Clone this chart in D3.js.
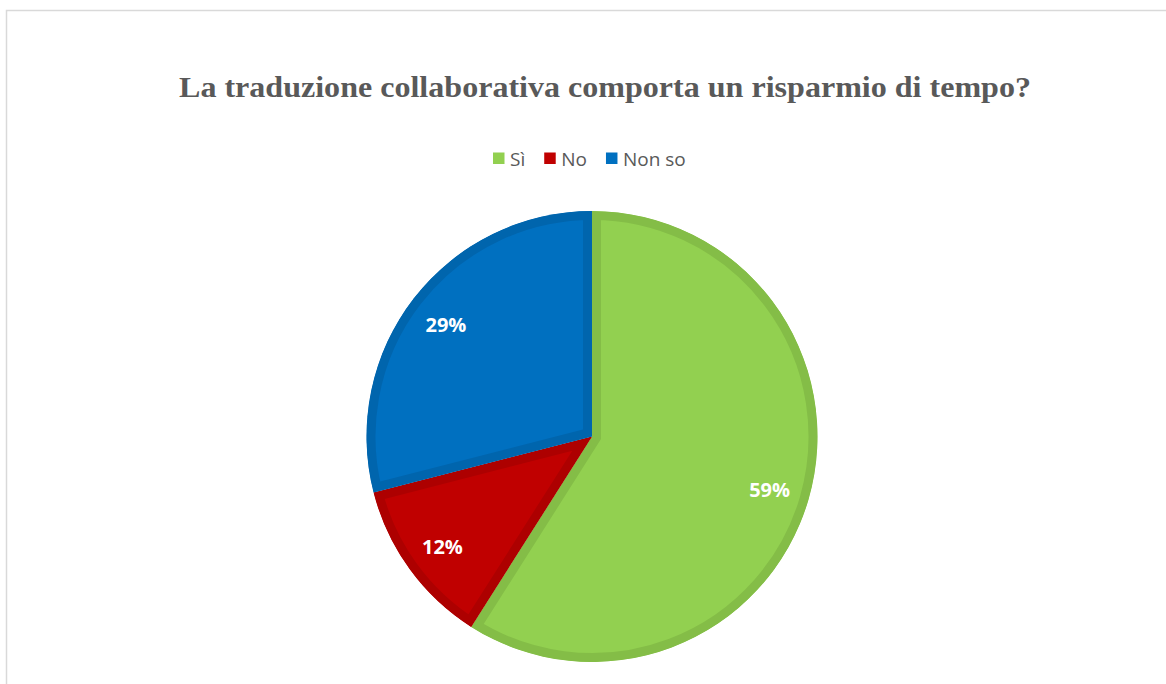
<!DOCTYPE html>
<html>
<head>
<meta charset="utf-8">
<script src="https://cdn.jsdelivr.net/npm/d3@7"></script>
<style>
  html, body { margin: 0; padding: 0; background: #fff; }
  svg { display: block; }
</style>
</head>
<body>
<svg id="chart" width="1166" height="684"></svg>
<script>
var categories = ["Sì", "No", "Non so"];
var values = [59, 12, 29];
var fills = ["#92D050", "#C00000", "#0070C0"];
var edges = ["#84BD47", "#AD0000", "#0065AD"];
var titleText = "La traduzione collaborativa comporta un risparmio di tempo?";

var svg = d3.select("#chart"),
    width = +svg.attr("width"),
    height = +svg.attr("height");

// chart frame (right and bottom sides fall outside the picture)
svg.append("rect")
    .attr("x", 6.5).attr("y", 10.5)
    .attr("width", width + 20).attr("height", height + 20)
    .attr("fill", "#fff")
    .attr("stroke", "#d9d9d9")
    .attr("stroke-width", 1.5);

// title
svg.append("text")
    .attr("x", 605).attr("y", 97)
    .attr("text-anchor", "middle")
    .attr("font-family", "'Liberation Serif', 'DejaVu Serif', serif")
    .attr("font-weight", "bold")
    .attr("font-size", 30)
    .attr("fill", "#595959")
    .attr("textLength", 852)
    .attr("lengthAdjust", "spacingAndGlyphs")
    .text(titleText);

// legend
var legend = svg.append("g")
    .attr("font-family", "'Open Sans', sans-serif")
    .attr("font-size", 19)
    .attr("fill", "#595959");

var lx = 493;
categories.forEach(function (c, i) {
  var item = legend.append("g").attr("transform", "translate(" + lx + ",0)");
  item.append("rect")
      .attr("x", 0).attr("y", 152.5)
      .attr("width", 11.5).attr("height", 11.5)
      .attr("fill", fills[i]);
  var t = item.append("text")
      .attr("x", 17).attr("y", 165.5)
      .text(c);
  lx += 17 + t.node().getComputedTextLength() + 19;
});

// pie
var cx = 592, cy = 436.5, radius = 225.5;

var pie = d3.pie().sort(null).value(function (d) { return d; });
var arc = d3.arc().innerRadius(0).outerRadius(radius);
var labelArc = d3.arc().innerRadius(radius * 0.82).outerRadius(radius * 0.82);

var arcs = pie(values);

// each slice clips its own wide stroke so the darker edge sits inside it
var defs = svg.append("defs");
defs.selectAll("clipPath")
    .data(arcs)
  .enter().append("clipPath")
    .attr("id", function (d, i) { return "slice" + i; })
  .append("path")
    .attr("d", arc);

var g = svg.append("g").attr("transform", "translate(" + cx + "," + cy + ")");

g.selectAll("path.slice")
    .data(arcs)
  .enter().append("path")
    .attr("class", "slice")
    .attr("d", arc)
    .attr("fill", function (d, i) { return fills[i]; })
    .attr("stroke", function (d, i) { return edges[i]; })
    .attr("stroke-width", 18)
    .attr("stroke-linejoin", "miter")
    .attr("clip-path", function (d, i) { return "url(#slice" + i + ")"; });

g.selectAll("text.pct")
    .data(arcs)
  .enter().append("text")
    .attr("class", "pct")
    .attr("transform", function (d) { return "translate(" + labelArc.centroid(d) + ")"; })
    .attr("dy", "0.45em")
    .attr("text-anchor", "middle")
    .attr("font-family", "'Open Sans', sans-serif")
    .attr("font-weight", "bold")
    .attr("font-size", 20)
    .attr("fill", "#fff")
    .text(function (d) { return d.data + "%"; });
</script>
</body>
</html>
